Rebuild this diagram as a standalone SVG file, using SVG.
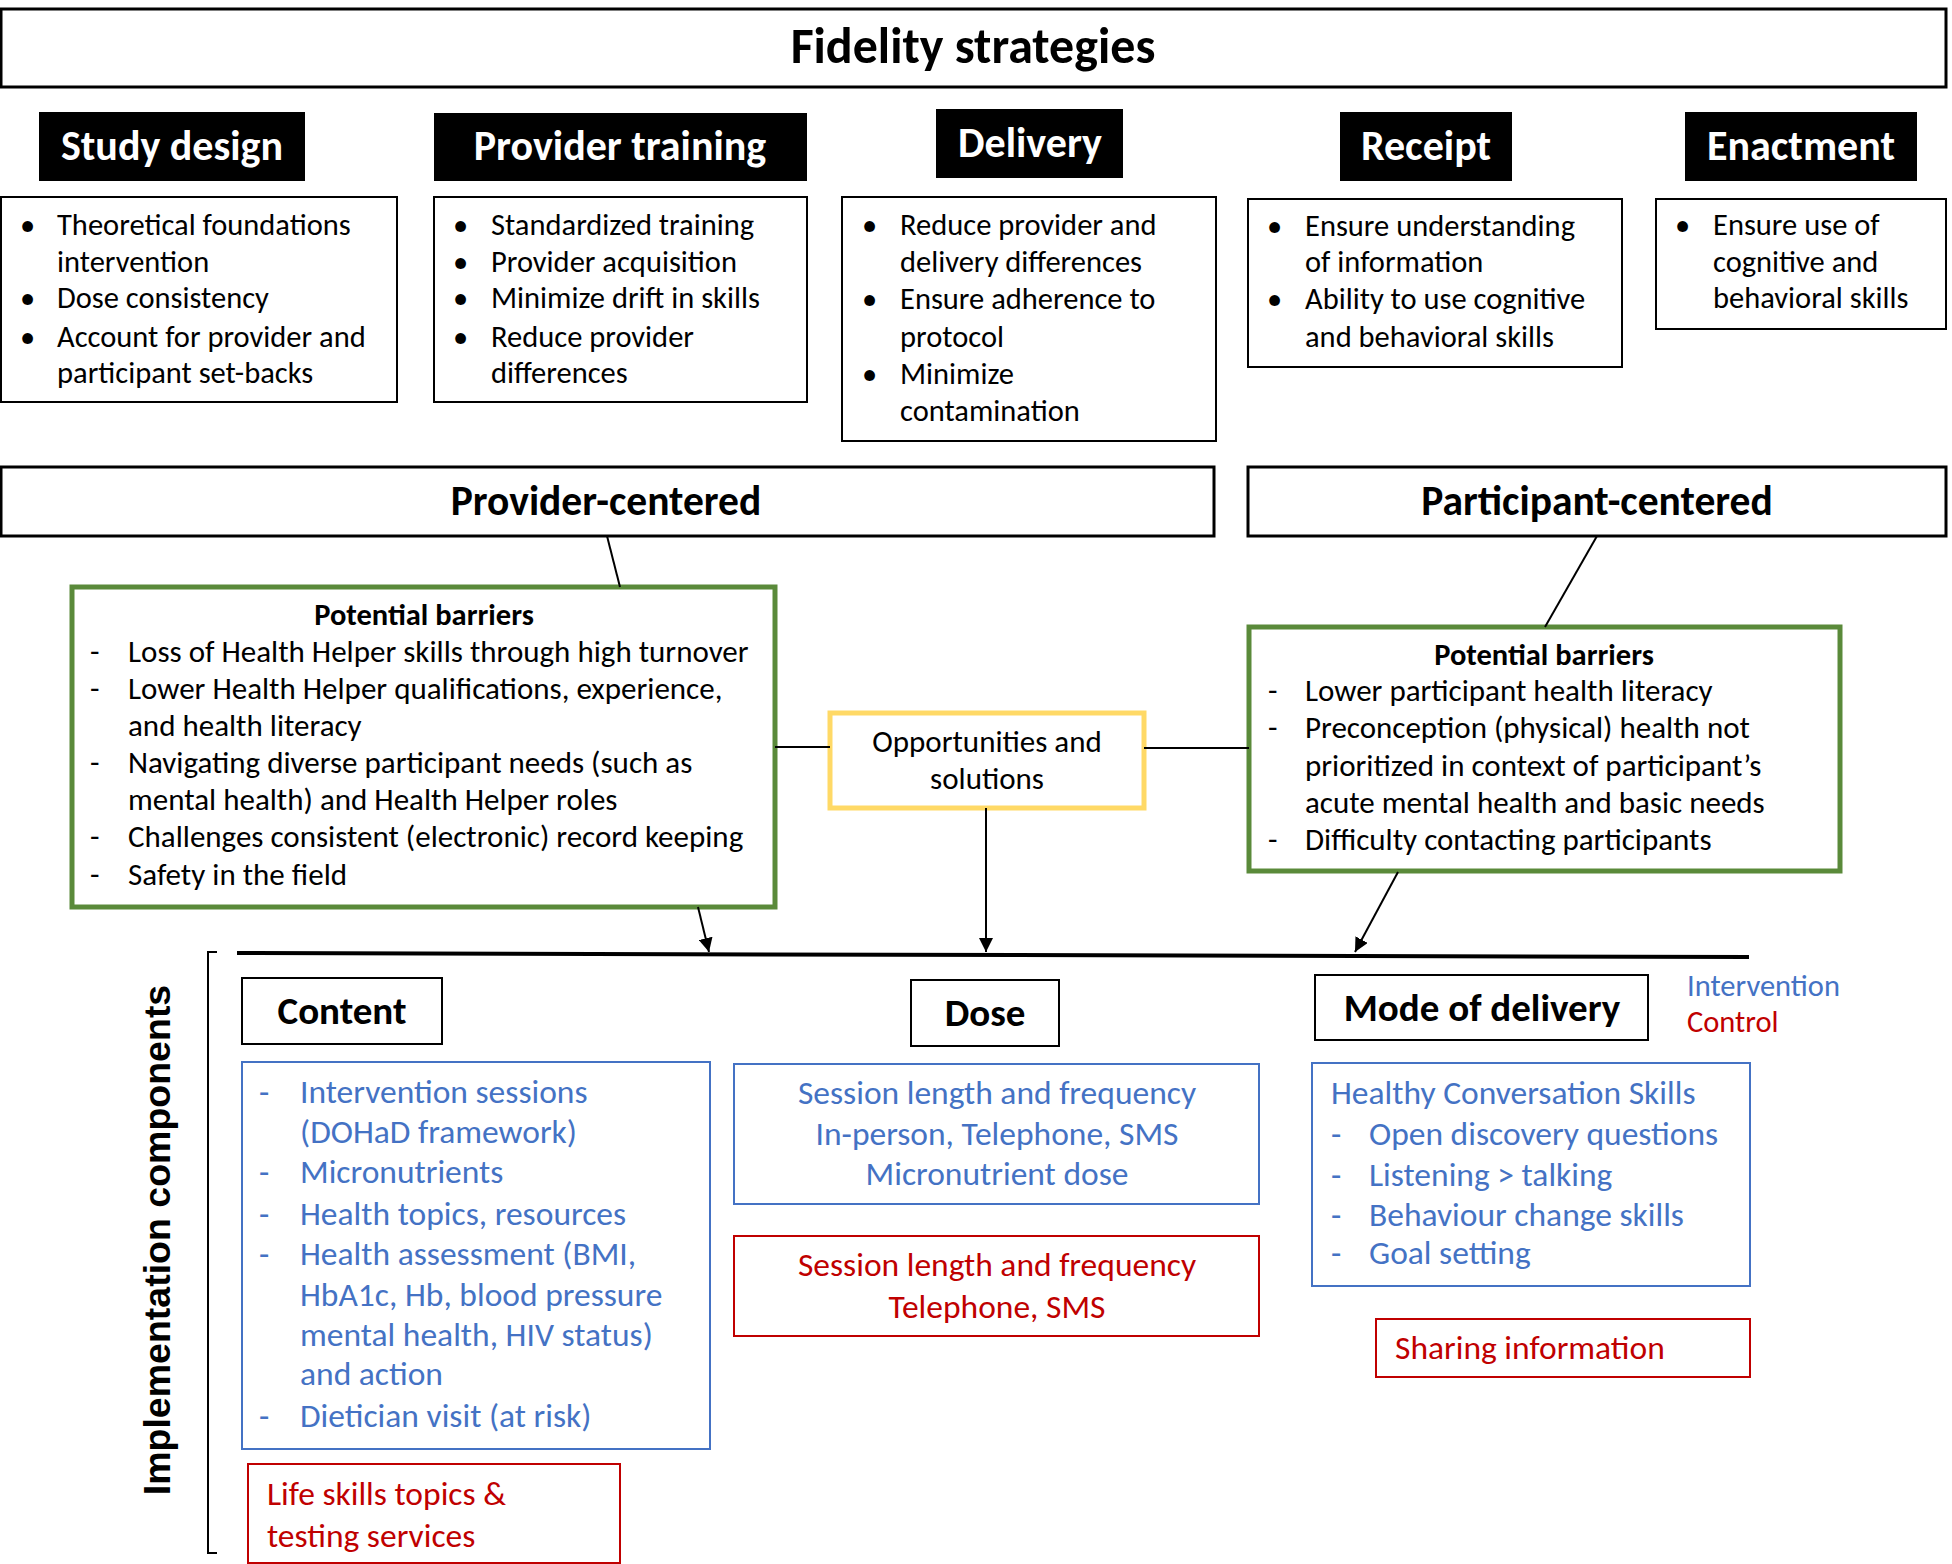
<svg xmlns="http://www.w3.org/2000/svg" width="1952" height="1564" viewBox="0 0 1952 1564">
<defs>
<style>
text{font-family:Carlito,Lato,"Liberation Sans",sans-serif;fill:#000}
.b{font-weight:bold}
.title{font-size:50px;font-weight:bold;text-anchor:middle}
.hdr{font-size:42px;font-weight:bold;fill:#fff;text-anchor:middle}
.ctr{font-size:41.5px;font-weight:bold;text-anchor:middle}
.li{font-size:30.5px}
.br{font-size:31px}
.bh{font-size:30.5px;font-weight:bold;text-anchor:middle}
.comp{font-size:39px;font-weight:bold;text-anchor:middle}
.blue{fill:#4472C4;font-size:33.5px}
.red{fill:#C00000;font-size:33.5px}
.mid{text-anchor:middle}
.box{fill:#fff;stroke:#000;stroke-width:2}
.box3{fill:#fff;stroke:#000;stroke-width:3}
.blk{fill:#000}
.green{fill:#fff;stroke:#5A8A3A;stroke-width:5}
.yellow{fill:#fff;stroke:#FFD966;stroke-width:5}
.bbox{fill:#fff;stroke:#4472C4;stroke-width:2}
.rbox{fill:#fff;stroke:#C00000;stroke-width:2}
.con{stroke:#000;stroke-width:2;fill:none}
.arr{stroke:#000;stroke-width:2;fill:none;marker-end:url(#ah)}
</style>
<marker id="ah" viewBox="0 0 10 10" refX="10" refY="5" markerWidth="7" markerHeight="7" orient="auto" markerUnits="strokeWidth">
<path d="M0,0 L10,5 L0,10 z" fill="#000"/>
</marker>
</defs>
<rect width="1952" height="1564" fill="#fff"/>

<g id="title">
<rect x="1" y="9" width="1945" height="78" class="box3"/>
<text x="973" y="63" class="title">Fidelity strategies</text>
</g>

<g id="study-design">
<rect x="39" y="112" width="266" height="69" class="blk"/>
<text x="172" y="160" class="hdr">Study design</text>
<rect x="1" y="197" width="396" height="205" class="box"/>
<text class="li"><tspan x="20" y="235">•</tspan><tspan x="57" y="235">Theoretical foundations</tspan><tspan x="57" y="272">intervention</tspan><tspan x="20" y="308">•</tspan><tspan x="57" y="308">Dose consistency</tspan><tspan x="20" y="347">•</tspan><tspan x="57" y="347">Account for provider and</tspan><tspan x="57" y="383">participant set-backs</tspan></text>
</g>

<g id="provider-training">
<rect x="434" y="113" width="373" height="68" class="blk"/>
<text x="620" y="160" class="hdr">Provider training</text>
<rect x="434" y="197" width="373" height="205" class="box"/>
<text class="li"><tspan x="453" y="235">•</tspan><tspan x="491" y="235">Standardized training</tspan><tspan x="453" y="272">•</tspan><tspan x="491" y="272">Provider acquisition</tspan><tspan x="453" y="308">•</tspan><tspan x="491" y="308">Minimize drift in skills</tspan><tspan x="453" y="347">•</tspan><tspan x="491" y="347">Reduce provider</tspan><tspan x="491" y="383">differences</tspan></text>
</g>

<g id="delivery">
<rect x="936" y="109" width="187" height="69" class="blk"/>
<text x="1030" y="157" class="hdr">Delivery</text>
<rect x="842" y="197" width="374" height="244" class="box"/>
<text class="li"><tspan x="862" y="235">•</tspan><tspan x="900" y="235">Reduce provider and</tspan><tspan x="900" y="272">delivery differences</tspan><tspan x="862" y="309">•</tspan><tspan x="900" y="309">Ensure adherence to</tspan><tspan x="900" y="347">protocol</tspan><tspan x="862" y="384">•</tspan><tspan x="900" y="384">Minimize</tspan><tspan x="900" y="421">contamination</tspan></text>
</g>

<g id="receipt">
<rect x="1340" y="112" width="172" height="69" class="blk"/>
<text x="1426" y="160" class="hdr">Receipt</text>
<rect x="1248" y="199" width="374" height="168" class="box"/>
<text class="li"><tspan x="1267" y="236">•</tspan><tspan x="1305" y="236">Ensure understanding</tspan><tspan x="1305" y="272">of information</tspan><tspan x="1267" y="309">•</tspan><tspan x="1305" y="309">Ability to use cognitive</tspan><tspan x="1305" y="347">and behavioral skills</tspan></text>
</g>

<g id="enactment">
<rect x="1685" y="112" width="232" height="69" class="blk"/>
<text x="1801" y="160" class="hdr">Enactment</text>
<rect x="1656" y="199" width="290" height="130" class="box"/>
<text class="li"><tspan x="1675" y="235">•</tspan><tspan x="1713" y="235">Ensure use of</tspan><tspan x="1713" y="272">cognitive and</tspan><tspan x="1713" y="308">behavioral skills</tspan></text>
</g>

<g id="provider-centered">
<rect x="1" y="467" width="1213" height="69" class="box3"/>
<text x="606" y="515" class="ctr">Provider-centered</text>
</g>

<g id="participant-centered">
<rect x="1248" y="467" width="698" height="69" class="box3"/>
<text x="1597" y="515" class="ctr">Participant-centered</text>
</g>

<g id="provider-barriers">
<rect x="72" y="587" width="703" height="320" class="green"/>
<text x="424" y="625" class="bh">Potential barriers</text>
<text class="br"><tspan x="90" y="662">-</tspan><tspan x="128" y="662">Loss of Health Helper skills through high turnover</tspan><tspan x="90" y="699">-</tspan><tspan x="128" y="699">Lower Health Helper qualifications, experience,</tspan><tspan x="128" y="736">and health literacy</tspan><tspan x="90" y="773">-</tspan><tspan x="128" y="773">Navigating diverse participant needs (such as</tspan><tspan x="128" y="810">mental health) and Health Helper roles</tspan><tspan x="90" y="847">-</tspan><tspan x="128" y="847">Challenges consistent (electronic) record keeping</tspan><tspan x="90" y="885">-</tspan><tspan x="128" y="885">Safety in the field</tspan></text>
</g>

<g id="opportunities">
<rect x="830" y="713" width="314" height="95" class="yellow"/>
<text class="br mid"><tspan x="987" y="752">Opportunities and</tspan><tspan x="987" y="789">solutions</tspan></text>
</g>

<g id="participant-barriers">
<rect x="1249" y="627" width="591" height="244" class="green"/>
<text x="1544" y="665" class="bh">Potential barriers</text>
<text class="br"><tspan x="1268" y="701">-</tspan><tspan x="1305" y="701">Lower participant health literacy</tspan><tspan x="1268" y="738">-</tspan><tspan x="1305" y="738">Preconception (physical) health not</tspan><tspan x="1305" y="776">prioritized in context of participant’s</tspan><tspan x="1305" y="813">acute mental health and basic needs</tspan><tspan x="1268" y="850">-</tspan><tspan x="1305" y="850">Difficulty contacting participants</tspan></text>
</g>

<g id="connectors">
<line x1="607" y1="536" x2="620" y2="587" class="con"/>
<line x1="1597" y1="536" x2="1545" y2="627" class="con"/>
<line x1="775" y1="747" x2="830" y2="747" class="con"/>
<line x1="1144" y1="748" x2="1249" y2="748" class="con"/>
<line x1="698" y1="907" x2="709" y2="952" class="arr"/>
<line x1="986" y1="808" x2="986" y2="952" class="arr"/>
<line x1="1398" y1="872" x2="1355" y2="952" class="arr"/>
<line x1="237" y1="953" x2="1749" y2="957" stroke="#000" stroke-width="4"/>
<path d="M217,952 H208 V1553 H217" class="con" stroke-width="1.5"/>
</g>

<g id="implementation-label">
<text transform="translate(170,1240) rotate(-90)" style="font-family:'Liberation Sans',Arial,sans-serif;font-size:37.5px;font-weight:bold" text-anchor="middle">Implementation components</text>
</g>

<g id="content">
<rect x="242" y="978" width="200" height="66" class="box"/>
<text x="342" y="1024" class="comp">Content</text>
<rect x="242" y="1062" width="468" height="387" class="bbox"/>
<text class="blue"><tspan x="259" y="1103">-</tspan><tspan x="300" y="1103">Intervention sessions</tspan><tspan x="300" y="1143">(DOHaD framework)</tspan><tspan x="259" y="1183">-</tspan><tspan x="300" y="1183">Micronutrients</tspan><tspan x="259" y="1225">-</tspan><tspan x="300" y="1225">Health topics, resources</tspan><tspan x="259" y="1265">-</tspan><tspan x="300" y="1265">Health assessment (BMI,</tspan><tspan x="300" y="1306">HbA1c, Hb, blood pressure</tspan><tspan x="300" y="1346">mental health, HIV status)</tspan><tspan x="300" y="1385">and action</tspan><tspan x="259" y="1427">-</tspan><tspan x="300" y="1427">Dietician visit (at risk)</tspan></text>
<rect x="248" y="1464" width="372" height="99" class="rbox"/>
<text class="red"><tspan x="267" y="1505">Life skills topics &amp;</tspan><tspan x="267" y="1547">testing services</tspan></text>
</g>

<g id="dose">
<rect x="911" y="980" width="148" height="66" class="box"/>
<text x="985" y="1026" class="comp">Dose</text>
<rect x="734" y="1064" width="525" height="140" class="bbox"/>
<text class="blue mid"><tspan x="997" y="1104">Session length and frequency</tspan><tspan x="997" y="1145">In-person, Telephone, SMS</tspan><tspan x="997" y="1185">Micronutrient dose</tspan></text>
<rect x="734" y="1236" width="525" height="100" class="rbox"/>
<text class="red mid"><tspan x="997" y="1276">Session length and frequency</tspan><tspan x="997" y="1318">Telephone, SMS</tspan></text>
</g>

<g id="mode-of-delivery">
<rect x="1315" y="975" width="333" height="65" class="box"/>
<text x="1482" y="1021" class="comp">Mode of delivery</text>
<rect x="1312" y="1063" width="438" height="223" class="bbox"/>
<text class="blue"><tspan x="1331" y="1104">Healthy Conversation Skills</tspan><tspan x="1331" y="1145">-</tspan><tspan x="1369" y="1145">Open discovery questions</tspan><tspan x="1331" y="1186">-</tspan><tspan x="1369" y="1186">Listening &gt; talking</tspan><tspan x="1331" y="1226">-</tspan><tspan x="1369" y="1226">Behaviour change skills</tspan><tspan x="1331" y="1264">-</tspan><tspan x="1369" y="1264">Goal setting</tspan></text>
<rect x="1376" y="1319" width="374" height="58" class="rbox"/>
<text x="1395" y="1359" class="red">Sharing information</text>
</g>

<g id="legend">
<text x="1687" y="996" style="fill:#4472C4;font-size:30.5px">Intervention</text>
<text x="1687" y="1032" style="fill:#C00000;font-size:30.5px">Control</text>
</g>
</svg>
